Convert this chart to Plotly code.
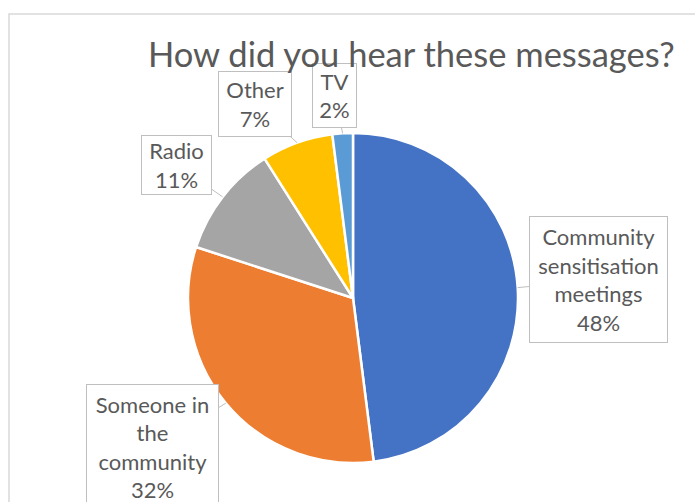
import math
import plotly.graph_objects as go

# ---- data ----
labels = ["Community sensitisation meetings", "Someone in the community", "Radio", "Other", "TV"]
label_text = ["Community<br>sensitisation<br>meetings", "Someone in<br>the<br>community", "Radio", "Other", "TV"]
values = [48, 32, 11, 7, 2]
colors = ["#4472C4", "#ED7D31", "#A5A5A5", "#FFC000", "#5B9BD5"]
title = "How did you hear these messages?"

# ---- layout constants ----
W, H = 695, 502
cx, cy, R = 353, 298, 165  # pie centre / radius in pixels
# label box offsets (pixels, box centre relative to slice tip) and box sizes
box_off = [(81, -8), (-73, 44), (-46, -32), (-42, -39), (-8, -38)]
box_size = [(137, 125), (131, 124), (69, 58), (72, 64), (43, 63)]
TXT = "#595959"
FONT = "Lato"

fig = go.Figure()
fig.add_trace(go.Pie(
    labels=labels, values=values, sort=False, direction="clockwise", rotation=0,
    marker=dict(colors=colors, line=dict(color="white", width=2.5)),
    textinfo="none", hoverinfo="label+percent", showlegend=False,
    domain=dict(x=[(cx - R) / W, (cx + R) / W], y=[1 - (cy + R) / H, 1 - (cy - R) / H]),
))

total = sum(values)
annotations = []
cum = 0
for i, v in enumerate(values):
    mid = (cum + v / 2) / total * 2 * math.pi
    cum += v
    px = cx + R * math.sin(mid)
    py = cy - R * math.cos(mid)
    pct = round(v / total * 100)
    ax, ay = box_off[i]
    bw, bh = box_size[i]
    annotations.append(dict(
        x=px / W, y=1 - py / H, xref="paper", yref="paper",
        text=f"{label_text[i]}<br>{pct}%", showarrow=True, arrowhead=0,
        arrowwidth=1, arrowcolor="#BFBFBF", ax=ax, ay=ay, standoff=0,
        bordercolor="#BFBFBF", borderwidth=1, borderpad=0, bgcolor="white",
        width=bw, height=bh, align="center", valign="middle",
        font=dict(family=FONT, size=22, color=TXT),
    ))

annotations.append(dict(
    x=411 / W, y=1 - 53 / H, xref="paper", yref="paper", text=title,
    showarrow=False, xanchor="center", yanchor="middle",
    font=dict(family=FONT, size=34.5, color=TXT),
))

fig.update_layout(
    width=W, height=H, margin=dict(l=0, r=0, t=0, b=0),
    paper_bgcolor="white", plot_bgcolor="white",
    annotations=annotations,
    shapes=[dict(type="rect", xref="paper", yref="paper",
                 x0=9 / W, x1=1.05, y0=-0.05, y1=1 - 14 / H,
                 line=dict(color="#D9D9D9", width=1.5), layer="below")],
)
fig.write_html("out.html")
